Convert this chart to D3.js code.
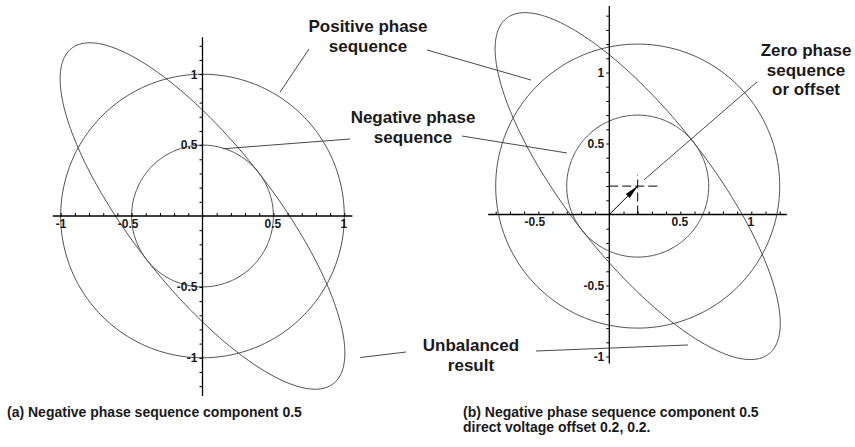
<!DOCTYPE html>
<html>
<head>
<meta charset="utf-8">
<script src="https://cdn.jsdelivr.net/npm/d3@7"></script>
<style>
  html, body { margin: 0; padding: 0; background: #fff; }
  svg { display: block; }
  text { font-family: "Liberation Sans", Arial, Helvetica, sans-serif; font-weight: bold; fill: #1a1a1a; }
</style>
</head>
<body>
<svg id="chart" width="855" height="447"></svg>
<script>
// Phasor components for the two panels
const panelIds        = ["a", "b"];
const positiveMag     = [1.0, 1.0];     // positive phase sequence magnitude
const negativeMag     = [0.5, 0.5];     // negative phase sequence magnitude
const negativePhase   = [256, 256];     // negative sequence phase (degrees)
const offsetX         = [0.0, 0.2];     // zero phase sequence / dc offset, real part
const offsetY         = [0.0, 0.2];     // zero phase sequence / dc offset, imaginary part

// Axis extents per panel (data units)
const xExtent = [[-1.056, 1.057], [-0.853, 1.25]];
const yExtent = [[-1.27, 1.26], [-1.05, 1.468]];

// Tick values
const minorStep   = 0.1;
const xTickLabels = [[-1, -0.5, 0.5, 1], [-0.5, 0.5, 1]];
const yTickLabels = [[1, 0.5, -0.5, -1], [1, 0.5, -0.5, -1]];

// Captions
const captions = [
  ["(a) Negative phase sequence component 0.5"],
  ["(b) Negative phase sequence component 0.5", "direct voltage offset 0.2, 0.2."]
];

// Callouts: text lines, label anchor (px) and the point on the curve (panel, data units)
const callouts = [
  { lines: ["Positive phase", "sequence"], at: [368, 26],
    leaders: [{ from: [309, 49], panel: 0, to: [0.548, 0.875] },
              { from: [427, 50], panel: 1, to: [-0.551, 0.947] }] },
  { lines: ["Negative phase", "sequence"], at: [413, 117],
    leaders: [{ from: [350, 139], panel: 0, to: [0.145, 0.474] },
              { from: [462, 136], panel: 1, to: [-0.298, 0.433] }] },
  { lines: ["Zero phase", "sequence", "or offset"], at: [806, 50],
    leaders: [{ from: [757, 82], panel: 1, to: [0.244, 0.243] }] },
  { lines: ["Unbalanced", "result"], at: [471, 345],
    leaders: [{ from: [406, 352], panel: 0, to: [1.113, -0.998] },
              { from: [536, 351], panel: 1, to: [0.554, -0.919] }] }
];

const svg = d3.select("#chart");
svg.append("rect").attr("width", 855).attr("height", 447).attr("fill", "#fff");

// Pixel frame of each panel: origin and unit length
const frames = [
  { ox: 202.5, oy: 216.0, unit: 141.8 },
  { ox: 609.3, oy: 214.5, unit: 142.0 }
];

const scales = frames.map(f => ({
  x: d3.scaleLinear().domain([-1, 1]).range([f.ox - f.unit, f.ox + f.unit]),
  y: d3.scaleLinear().domain([-1, 1]).range([f.oy + f.unit, f.oy - f.unit])
}));

const rad = Math.PI / 180;
const theta = d3.range(0, 361, 1).map(d => d * rad);

panelIds.forEach((id, i) => {
  const { x, y } = scales[i];
  const g = svg.append("g").attr("class", "panel-" + id);
  const line = d3.line().x(d => x(d[0])).y(d => y(d[1]));
  const cx = offsetX[i], cy = offsetY[i];
  const p = positiveMag[i], n = negativeMag[i], psi = negativePhase[i] * rad;

  // Positive sequence circle
  g.append("path")
    .attr("d", line(theta.map(t => [cx + p * Math.cos(t), cy + p * Math.sin(t)])))
    .attr("fill", "none").attr("stroke", "#3a3a3a").attr("stroke-width", 0.9);
  // Negative sequence circle
  g.append("path")
    .attr("d", line(theta.map(t => [cx + n * Math.cos(t), cy + n * Math.sin(t)])))
    .attr("fill", "none").attr("stroke", "#3a3a3a").attr("stroke-width", 0.9);
  // Unbalanced result: sum of the two rotating phasors plus offset
  g.append("path")
    .attr("d", line(theta.map(t => [
      cx + p * Math.cos(t) + n * Math.cos(psi - t),
      cy + p * Math.sin(t) + n * Math.sin(psi - t)])))
    .attr("fill", "none").attr("stroke", "#3a3a3a").attr("stroke-width", 0.9);

  // Axis lines
  g.append("line")
    .attr("x1", x(xExtent[i][0])).attr("x2", x(xExtent[i][1]))
    .attr("y1", y(0)).attr("y2", y(0))
    .attr("stroke", "#000").attr("stroke-width", 1.3);
  g.append("line")
    .attr("x1", x(0)).attr("x2", x(0))
    .attr("y1", y(yExtent[i][0])).attr("y2", y(yExtent[i][1]))
    .attr("stroke", "#000").attr("stroke-width", 1.3);

  // Minor ticks every 0.1
  const xMinor = d3.range(Math.ceil(xExtent[i][0] / minorStep), Math.floor(xExtent[i][1] / minorStep) + 1)
    .map(k => +(k * minorStep).toFixed(2)).filter(v => v !== 0);
  const yMinor = d3.range(Math.ceil(yExtent[i][0] / minorStep), Math.floor(yExtent[i][1] / minorStep) + 1)
    .map(k => +(k * minorStep).toFixed(2)).filter(v => v !== 0);

  const xTicks = g.append("g").attr("transform", `translate(0,${y(0)})`)
    .call(d3.axisTop(x).tickValues(xMinor).tickSize(3).tickFormat(""));
  xTicks.select(".domain").remove();
  xTicks.selectAll("line").attr("stroke", "#000").attr("stroke-width", 1);

  const yTicks = g.append("g").attr("transform", `translate(${x(0)},0)`)
    .call(d3.axisLeft(y).tickValues(yMinor).tickSize(3).tickFormat(""));
  yTicks.select(".domain").remove();
  yTicks.selectAll("line").attr("stroke", "#000").attr("stroke-width", 1);

  // Tick labels
  const xLab = g.append("g").attr("transform", `translate(0,${y(0)})`)
    .call(d3.axisBottom(x).tickValues(xTickLabels[i]).tickSize(0).tickPadding(3)
      .tickFormat(d => String(d)));
  xLab.select(".domain").remove();
  xLab.selectAll("text").attr("font-size", 12).attr("fill", "#1a1a1a")
    .attr("font-family", "'Liberation Sans', Arial, sans-serif").attr("font-weight", "bold")
    .attr("dx", d => d < 0 ? (d === -1 ? 0 : -4) : -1);

  const yLab = g.append("g").attr("transform", `translate(${x(0)},0)`)
    .call(d3.axisLeft(y).tickValues(yTickLabels[i]).tickSize(0).tickPadding(5)
      .tickFormat(d => String(d)));
  yLab.select(".domain").remove();
  yLab.selectAll("text").attr("font-size", 12).attr("fill", "#1a1a1a")
    .attr("font-family", "'Liberation Sans', Arial, sans-serif").attr("font-weight", "bold");

  // Offset marker: dashed cross and arrow from the origin
  if (offsetX[i] !== 0 || offsetY[i] !== 0) {
    g.append("line")
      .attr("x1", x(0)).attr("x2", x(cx + 0.145))
      .attr("y1", y(cy)).attr("y2", y(cy))
      .attr("stroke", "#000").attr("stroke-width", 1).attr("stroke-dasharray", "9,4");
    g.append("line")
      .attr("x1", x(cx)).attr("x2", x(cx))
      .attr("y1", y(0)).attr("y2", y(cy + 0.08))
      .attr("stroke", "#000").attr("stroke-width", 1).attr("stroke-dasharray", "9,4");
    const x0 = x(0), y0 = y(0), x1 = x(cx), y1 = y(cy);
    const ang = Math.atan2(y1 - y0, x1 - x0);
    const L = 14, W = 2.8;
    g.append("line")
      .attr("x1", x0).attr("y1", y0).attr("x2", x1).attr("y2", y1)
      .attr("stroke", "#000").attr("stroke-width", 1);
    const bx = x1 - L * Math.cos(ang), by = y1 - L * Math.sin(ang);
    g.append("path")
      .attr("d", `M${x1},${y1} L${bx - W * Math.sin(ang)},${by + W * Math.cos(ang)} L${bx + W * Math.sin(ang)},${by - W * Math.cos(ang)} Z`)
      .attr("fill", "#000");
  }
});

// Callouts
callouts.forEach(c => {
  c.leaders.forEach(l => {
    const s = scales[l.panel];
    svg.append("line")
      .attr("x1", l.from[0]).attr("y1", l.from[1])
      .attr("x2", s.x(l.to[0])).attr("y2", s.y(l.to[1]))
      .attr("stroke", "#333").attr("stroke-width", 0.9);
  });
  const t = svg.append("text").attr("text-anchor", "middle").attr("font-size", 17);
  c.lines.forEach((ln, k) => {
    t.append("tspan").attr("x", c.at[0]).attr("y", c.at[1] + k * 19.5).attr("dy", "0.36em").text(ln);
  });
});

// Captions
const captionX = [7, 463];
captions.forEach((lines, i) => {
  const t = svg.append("text").attr("font-size", 14);
  lines.forEach((ln, k) => {
    t.append("tspan").attr("x", captionX[i]).attr("y", 417 + k * 15).text(ln);
  });
});
</script>
</body>
</html>
